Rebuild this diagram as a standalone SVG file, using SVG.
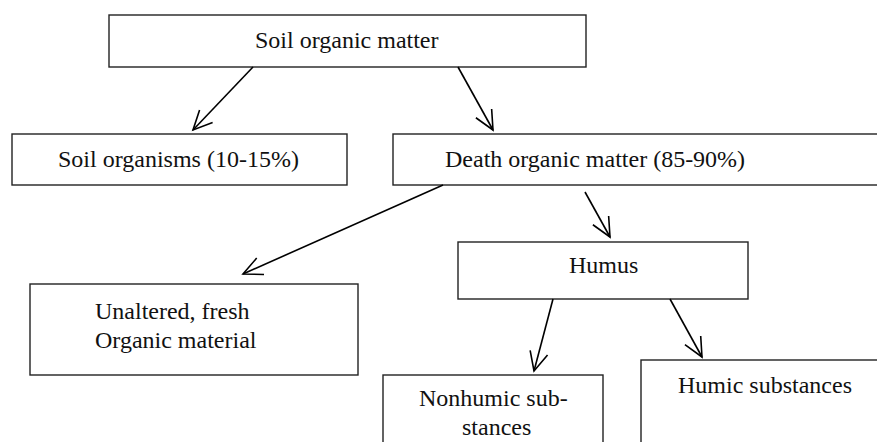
<svg xmlns="http://www.w3.org/2000/svg" width="877" height="442" viewBox="0 0 877 442">
<defs>
<style>
.box{fill:#fff;stroke:#222;stroke-width:1.4}
.t{font-family:"Liberation Serif","Times New Roman",serif;font-size:24px;fill:#111}
.c{stroke:#000;stroke-width:1.6;fill:none}
</style>
<marker id="ah" markerUnits="userSpaceOnUse" markerWidth="30" markerHeight="30" viewBox="-22 -15 30 30" refX="0" refY="0" orient="auto">
<path d="M-19,-9 L0,0 L-19,9" fill="none" stroke="#000" stroke-width="1.6"/>
</marker>
</defs>
<rect width="877" height="442" fill="#fff"/>
<g id="n-som"><rect class="box" x="109" y="15" width="477" height="52"/><text class="t" x="255" y="48">Soil organic matter</text></g>
<g id="n-org"><rect class="box" x="12" y="134" width="335" height="51"/><text class="t" x="58" y="167">Soil organisms (10-15%)</text></g>
<g id="n-dom"><rect class="box" x="393" y="134" width="490" height="51"/><text class="t" x="445" y="167">Death organic matter (85-90%)</text></g>
<g id="n-fresh"><rect class="box" x="30" y="284" width="328" height="91"/><text class="t" x="95" y="319">Unaltered, fresh</text><text class="t" x="95" y="348">Organic material</text></g>
<g id="n-humus"><rect class="box" x="458" y="242" width="290" height="57"/><text class="t" x="569" y="273">Humus</text></g>
<g id="n-nonhumic"><rect class="box" x="383" y="375" width="220" height="72"/><text class="t" x="419" y="406">Nonhumic sub-</text><text class="t" x="462" y="435">stances</text></g>
<g id="n-humic"><rect class="box" x="641" y="360" width="245" height="90"/><text class="t" x="678" y="393">Humic substances</text></g>
<g id="connectors">
<line class="c" x1="253" y1="67" x2="193" y2="130" marker-end="url(#ah)"/>
<line class="c" x1="458" y1="67" x2="493" y2="130" marker-end="url(#ah)"/>
<line class="c" x1="443" y1="185" x2="243" y2="274" marker-end="url(#ah)"/>
<line class="c" x1="585" y1="192" x2="610" y2="237" marker-end="url(#ah)"/>
<line class="c" x1="553" y1="299" x2="534" y2="371" marker-end="url(#ah)"/>
<line class="c" x1="670" y1="299" x2="702" y2="357" marker-end="url(#ah)"/>
</g>
</svg>
